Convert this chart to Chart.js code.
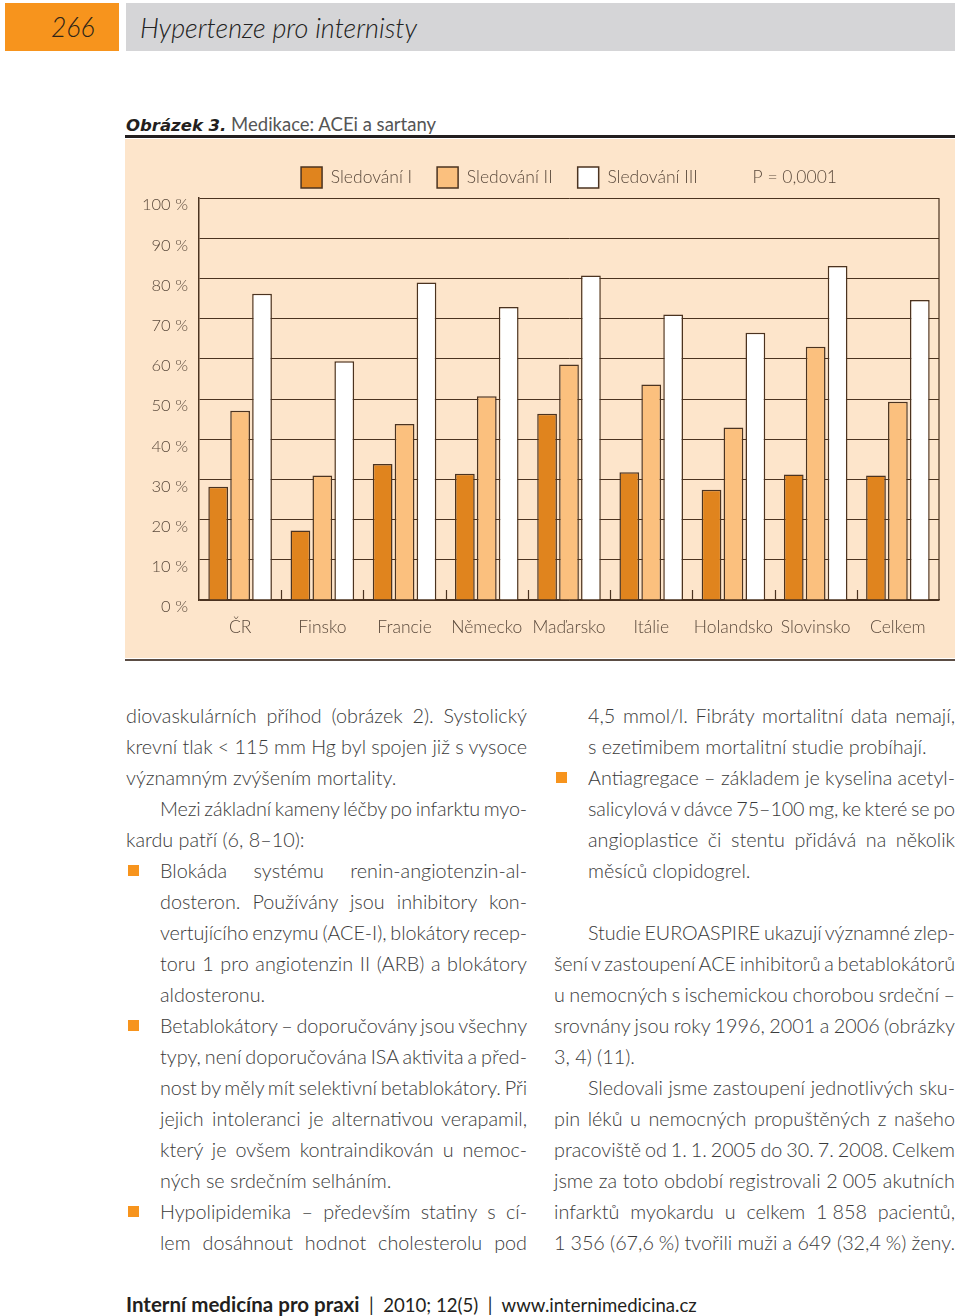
<!DOCTYPE html>
<html lang="cs">
<head>
<meta charset="utf-8">
<script src="https://cdn.jsdelivr.net/npm/chart.js@4.4.1/dist/chart.umd.min.js"></script>
<style>
  body { margin: 0; width: 960px; height: 1316px; background: #fff; position: relative; overflow: hidden;
         font-family: Lato, "Open Sans", sans-serif; color: #3a3a3a; }
  .abs { position: absolute; }
  #pageNo { left: 5px; top: 3px; width: 114px; height: 48px; background: #f7941d; }
  #pageNo span { position: absolute; left: 46px; top: 8px; font-size: 26.5px; font-style: italic; font-weight: 300; color: #2e2418; }
  #runHead { left: 126px; top: 3px; width: 829px; height: 48px; background: #d5d5d7; }
  #runHead span { position: absolute; left: 14px; top: 8px; font-size: 27px; font-style: italic; font-weight: 300; color: #222; }
  #caption { left: 126px; top: 113px; font-size: 18.5px; color: #555; white-space: nowrap; }
  #caption b { font-family: "DejaVu Sans", sans-serif; font-size: 16.5px; font-style: italic; font-weight: 700; color: #231f20; }
  #capLine { left: 125px; top: 135px; width: 830px; height: 3px; background: #231f20; }
  #box { left: 125px; top: 139px; width: 830px; height: 519px; background: #fde5cb; }
  #boxLine { left: 125px; top: 659px; width: 830px; height: 2px; background: #5b4d44; }
  .col { top: 700px; width: 401px; font-size: 19.8px; line-height: 31px; font-weight: 300; }
  .col div { white-space: nowrap; }
  .col div.ind { padding-left: 34px; }
  .col div.b { position: relative; padding-left: 34px; }
  .col div.b::before { content: ""; position: absolute; left: 2px; top: 10px; width: 11px; height: 11px; background: #f7941d; }
  #footer { left: 126px; top: 1292px; font-size: 18.6px; color: #231f20; white-space: pre; }
  #footer b { font-weight: 700; font-size: 20.5px; }
</style>
</head>
<body>
<div id="pageNo" class="abs"><span>266</span></div>
<div id="runHead" class="abs"><span>Hypertenze pro internisty</span></div>
<div id="caption" class="abs"><b>Obrázek 3.</b> Medikace: ACEi a sartany</div>
<div id="capLine" class="abs"></div>
<div id="box" class="abs"><canvas id="barChart"></canvas></div>
<div id="boxLine" class="abs"></div>

<div class="col abs" style="left:126px">
  <div class="j">diovaskulárních příhod (obrázek 2). Systolický</div>
  <div class="j">krevní tlak &lt; 115 mm Hg byl spojen již s vysoce</div>
  <div>významným zvýšením mortality.</div>
  <div class="ind j">Mezi základní kameny léčby po infarktu myo-</div>
  <div>kardu patří (6, 8–10):</div>
  <div class="b j">Blokáda systému renin-angiotenzin-al-</div>
  <div class="ind j">dosteron. Používány jsou inhibitory kon-</div>
  <div class="ind j">vertujícího enzymu (ACE-I), blokátory recep-</div>
  <div class="ind j">toru 1 pro angiotenzin II (ARB) a blokátory</div>
  <div class="ind">aldosteronu.</div>
  <div class="b j">Betablokátory – doporučovány jsou všechny</div>
  <div class="ind j">typy, není doporučována ISA aktivita a před-</div>
  <div class="ind j">nost by měly mít selektivní betablokátory. Při</div>
  <div class="ind j">jejich intoleranci je alternativou verapamil,</div>
  <div class="ind j">který je ovšem kontraindikován u nemoc-</div>
  <div class="ind">ných se srdečním selháním.</div>
  <div class="b j">Hypolipidemika – především statiny s cí-</div>
  <div class="ind j">lem dosáhnout hodnot cholesterolu pod</div>
</div>

<div class="col abs" style="left:554px">
  <div class="ind j">4,5 mmol/l. Fibráty mortalitní data nemají,</div>
  <div class="ind">s ezetimibem mortalitní studie probíhají.</div>
  <div class="b j">Antiagregace – základem je kyselina acetyl-</div>
  <div class="ind j">salicylová v dávce 75–100 mg, ke které se po</div>
  <div class="ind j">angioplastice či stentu přidává na několik</div>
  <div class="ind">měsíců clopidogrel.</div>
  <div>&nbsp;</div>
  <div class="ind j">Studie EUROASPIRE ukazují významné zlep-</div>
  <div class="j">šení v zastoupení ACE inhibitorů a betablokátorů</div>
  <div class="j">u nemocných s ischemickou chorobou srdeční –</div>
  <div class="j">srovnány jsou roky 1996, 2001 a 2006 (obrázky</div>
  <div>3, 4) (11).</div>
  <div class="ind j">Sledovali jsme zastoupení jednotlivých sku-</div>
  <div class="j">pin léků u nemocných propuštěných z našeho</div>
  <div class="j">pracoviště od 1. 1. 2005 do 30. 7. 2008. Celkem</div>
  <div class="j">jsme za toto období registrovali 2&#8239;005 akutních</div>
  <div class="j">infarktů myokardu u celkem 1&#8239;858 pacientů,</div>
  <div class="j">1&#8239;356 (67,6&#8239;%) tvořili muži a 649 (32,4&#8239;%) ženy.</div>
</div>

<div id="footer" class="abs"><b>Interní medicína pro praxi</b>  |  2010; 12(5)  |  www.internimedicina.cz</div>

<script>
const countries = ['ČR', 'Finsko', 'Francie', 'Německo', 'Maďarsko', 'Itálie', 'Holandsko', 'Slovinsko', 'Celkem'];
const sledovani1 = [28.2, 17.3, 33.8, 31.4, 46.3, 31.8, 27.4, 31.2, 31.0];
const sledovani2 = [47.1, 31.0, 43.8, 50.7, 58.6, 53.6, 42.9, 63.0, 49.3];
const sledovani3 = [76.2, 59.4, 79.0, 72.9, 80.7, 71.0, 66.5, 83.1, 74.6];
const yTicks = [0, 10, 20, 30, 40, 50, 60, 70, 80, 90, 100];
const pValue = 'P = 0,0001';

const lineColor = '#4b3320';
const labelColor = '#5b4a3c';

// justify each typeset line: spread word gaps, squeeze letters if the gaps get too tight
function justifyLines() {
    document.querySelectorAll('.col div.j').forEach(d => {
        d.style.wordSpacing = '0px';
        d.style.letterSpacing = '0px';
        let span = d.querySelector('span.t');
        if (!span) {
            span = document.createElement('span');
            span.className = 't';
            span.innerHTML = d.innerHTML;
            d.innerHTML = '';
            d.appendChild(span);
        }
        const target = d.clientWidth - parseFloat(getComputedStyle(d).paddingLeft);
        const natural = span.getBoundingClientRect().width;
        const text = span.textContent;
        const spaces = (text.match(/ /g) || []).length;
        if (!spaces) return;
        let ws = (target - natural) / spaces;
        if (ws < -1.5) {
            const rest = (target - natural) + 1.5 * spaces;
            d.style.letterSpacing = (rest / text.length) + 'px';
            ws = -1.5;
            d.style.wordSpacing = ws + 'px';
            const now = span.getBoundingClientRect().width;
            d.style.wordSpacing = (ws + (target - now) / spaces) + 'px';
        } else {
            d.style.wordSpacing = ws + 'px';
        }
    });
}
justifyLines();
document.fonts.ready.then(justifyLines);

// short inner ticks at the group boundaries + right frame line
const frame = {
    id: 'frame',
    afterDatasetsDraw(chart) {
        const ctx = chart.ctx;
        const area = chart.chartArea;
        const x = chart.scales.x;
        ctx.save();
        ctx.strokeStyle = lineColor;
        ctx.lineWidth = 1.2;
        ctx.beginPath();
        for (let i = 1; i < countries.length; i++) {
            const bx = Math.round((x.getPixelForValue(i - 1) + x.getPixelForValue(i)) / 2) + 0.5;
            ctx.moveTo(bx, area.bottom);
            ctx.lineTo(bx, area.bottom - 10);
        }
        ctx.moveTo(area.right, area.top);
        ctx.lineTo(area.right, area.bottom);
        ctx.stroke();
        ctx.restore();
    }
};

const barStyle = {
    borderWidth: 1.5,
    borderColor: lineColor,
    categoryPercentage: 0.8,
    barPercentage: 0.9
};

new Chart(document.getElementById('barChart'), {
    type: 'bar',
    data: {
        labels: countries,
        datasets: [
            { label: 'Sledování I', data: sledovani1, backgroundColor: '#e0841e', ...barStyle },
            { label: 'Sledování II', data: sledovani2, backgroundColor: '#fbc07e', ...barStyle },
            { label: 'Sledování III', data: sledovani3, backgroundColor: '#ffffff', ...barStyle }
        ]
    },
    options: {
        responsive: true,
        maintainAspectRatio: false,
        animation: false,
        layout: { padding: { top: 3, right: 16, left: 0, bottom: 0 } },
        scales: {
            y: {
                min: 0,
                max: 100,
                afterBuildTicks: (scale) => { scale.ticks = yTicks.map(v => ({ value: v })); },
                afterFit: (scale) => { scale.width = 74; },
                border: { display: true, color: lineColor, width: 1.5 },
                grid: { color: lineColor, lineWidth: 1, drawTicks: false },
                ticks: {
                    padding: 11,
                    labelOffset: 7,
                    color: labelColor,
                    font: { family: 'Lato', size: 16.5, weight: '300' },
                    callback: (v) => v + ' %'
                }
            },
            x: {
                afterFit: (scale) => { scale.height = 58; },
                border: { display: true, color: lineColor, width: 1.5 },
                grid: { display: false },
                ticks: {
                    padding: 9,
                    maxRotation: 0,
                    minRotation: 0,
                    autoSkip: false,
                    color: labelColor,
                    font: { family: 'Lato', size: 17.5, weight: '300' }
                }
            }
        },
        plugins: {
            tooltip: { enabled: false },
            legend: {
                position: 'top',
                fullSize: false,
                labels: {
                    boxWidth: 21,
                    boxHeight: 21,
                    padding: 25,
                    color: labelColor,
                    font: { family: 'Lato', size: 17.5, weight: '300' },
                    generateLabels(chart) {
                        const items = Chart.defaults.plugins.legend.labels.generateLabels(chart);
                        items.push({ text: pValue, fillStyle: 'rgba(0,0,0,0)', strokeStyle: 'rgba(0,0,0,0)',
                                     lineWidth: 0, hidden: false, fontColor: labelColor });
                        return items;
                    }
                }
            }
        }
    },
    plugins: [frame]
});
</script>
</body>
</html>
